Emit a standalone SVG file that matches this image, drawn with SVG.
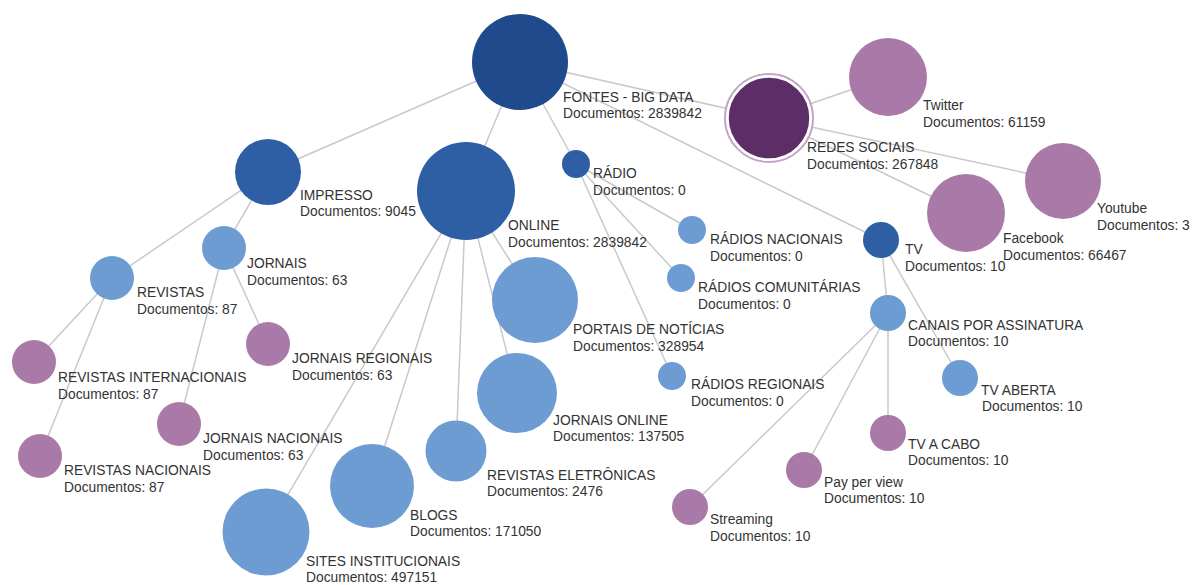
<svg xmlns="http://www.w3.org/2000/svg" width="1193" height="585" viewBox="0 0 1193 585">
  <style>
    .link { stroke: #c9c9c9; stroke-width: 1.5; fill: none; }
    .root { fill: #1f4a8c; }
    .branch { fill: #2e5fa5; }
    .sub { fill: #6c9cd2; }
    .leaf { fill: #a97aa8; }
    .social { fill: #5c2d66; stroke: #ffffff; stroke-width: 2.5; }
    .ring { fill: none; stroke: #c3a6c6; stroke-width: 2; }
    text { font-family: "Liberation Sans", Arial, sans-serif; font-size: 13.8px; fill: #333333; }
  </style>
  <rect width="1193" height="585" fill="#ffffff"/>

  <!-- tree edges, drawn under the nodes -->
  <g id="links">
    <!-- FONTES - BIG DATA -->
    <line class="link" x1="520" y1="62" x2="268" y2="172"/>
    <line class="link" x1="520" y1="62" x2="466" y2="191"/>
    <line class="link" x1="520" y1="62" x2="576" y2="164"/>
    <line class="link" x1="520" y1="62" x2="881" y2="240"/>
    <line class="link" x1="520" y1="62" x2="769" y2="118"/>
    <!-- REDES SOCIAIS -->
    <line class="link" x1="769" y1="118" x2="888" y2="77"/>
    <line class="link" x1="769" y1="118" x2="1063" y2="181"/>
    <line class="link" x1="769" y1="118" x2="966" y2="213"/>
    <!-- IMPRESSO -->
    <line class="link" x1="268" y1="172" x2="112" y2="278"/>
    <line class="link" x1="268" y1="172" x2="224" y2="248"/>
    <!-- REVISTAS -->
    <line class="link" x1="112" y1="278" x2="34" y2="362"/>
    <line class="link" x1="112" y1="278" x2="40" y2="456"/>
    <!-- JORNAIS -->
    <line class="link" x1="224" y1="248" x2="268" y2="344"/>
    <line class="link" x1="224" y1="248" x2="179" y2="424"/>
    <!-- ONLINE -->
    <line class="link" x1="466" y1="191" x2="535" y2="300"/>
    <line class="link" x1="466" y1="191" x2="517" y2="393"/>
    <line class="link" x1="466" y1="191" x2="456" y2="451"/>
    <line class="link" x1="466" y1="191" x2="372" y2="486"/>
    <line class="link" x1="466" y1="191" x2="266" y2="532"/>
    <!-- RÁDIO -->
    <line class="link" x1="576" y1="164" x2="692" y2="230"/>
    <line class="link" x1="576" y1="164" x2="681" y2="278"/>
    <line class="link" x1="576" y1="164" x2="672" y2="376"/>
    <!-- TV -->
    <line class="link" x1="881" y1="240" x2="888" y2="313"/>
    <line class="link" x1="881" y1="240" x2="960" y2="378"/>
    <!-- CANAIS POR ASSINATURA -->
    <line class="link" x1="888" y1="313" x2="888" y2="433"/>
    <line class="link" x1="888" y1="313" x2="804" y2="470"/>
    <line class="link" x1="888" y1="313" x2="690" y2="507"/>
  </g>

  <g id="node-fontes">
    <circle class="root" cx="520" cy="62" r="48"/>
    <text x="563" y="102">FONTES - BIG DATA<tspan x="563" dy="16">Documentos: 2839842</tspan></text>
  </g>

  <g id="node-redes-sociais">
    <circle class="ring" cx="769" cy="118" r="44"/>
    <circle class="social" cx="769" cy="118" r="41.5"/>
    <text x="807" y="152">REDES SOCIAIS<tspan x="807" dy="16.5">Documentos: 267848</tspan></text>
  </g>

  <g id="node-twitter">
    <circle class="leaf" cx="888" cy="77" r="39"/>
    <text x="923" y="110">Twitter<tspan x="923" dy="16.5">Documentos: 61159</tspan></text>
  </g>

  <g id="node-youtube">
    <circle class="leaf" cx="1063" cy="181" r="38"/>
    <text x="1097" y="213">Youtube<tspan x="1097" dy="16.5">Documentos: 3</tspan></text>
  </g>

  <g id="node-facebook">
    <circle class="leaf" cx="966" cy="213" r="39"/>
    <text x="1003" y="243">Facebook<tspan x="1003" dy="16.5">Documentos: 66467</tspan></text>
  </g>

  <g id="node-tv">
    <circle class="branch" cx="881" cy="240" r="18"/>
    <text x="905" y="254">TV<tspan x="905" dy="16.5">Documentos: 10</tspan></text>
  </g>

  <g id="node-impresso">
    <circle class="branch" cx="268" cy="172" r="33"/>
    <text x="300" y="200">IMPRESSO<tspan x="300" dy="16">Documentos: 9045</tspan></text>
  </g>

  <g id="node-online">
    <circle class="branch" cx="466" cy="191" r="49"/>
    <text x="508" y="230">ONLINE<tspan x="508" dy="16.5">Documentos: 2839842</tspan></text>
  </g>

  <g id="node-radio">
    <circle class="branch" cx="576" cy="164" r="14"/>
    <text x="593" y="178">RÁDIO<tspan x="593" dy="17">Documentos: 0</tspan></text>
  </g>

  <g id="node-radios-nacionais">
    <circle class="sub" cx="692" cy="230" r="14"/>
    <text x="710" y="244">RÁDIOS NACIONAIS<tspan x="710" dy="16.5">Documentos: 0</tspan></text>
  </g>

  <g id="node-radios-comunitarias">
    <circle class="sub" cx="681" cy="278" r="14"/>
    <text x="698" y="292">RÁDIOS COMUNITÁRIAS<tspan x="698" dy="16.5">Documentos: 0</tspan></text>
  </g>

  <g id="node-radios-regionais">
    <circle class="sub" cx="672" cy="376" r="14"/>
    <text x="691" y="389">RÁDIOS REGIONAIS<tspan x="691" dy="16.5">Documentos: 0</tspan></text>
  </g>

  <g id="node-portais">
    <circle class="sub" cx="535" cy="300" r="43"/>
    <text x="573" y="334">PORTAIS DE NOTÍCIAS<tspan x="573" dy="17">Documentos: 328954</tspan></text>
  </g>

  <g id="node-jornais-online">
    <circle class="sub" cx="517" cy="393" r="40"/>
    <text x="553" y="425">JORNAIS ONLINE<tspan x="553" dy="16">Documentos: 137505</tspan></text>
  </g>

  <g id="node-revistas-eletronicas">
    <circle class="sub" cx="456" cy="451" r="30.5"/>
    <text x="487" y="480">REVISTAS ELETRÔNICAS<tspan x="487" dy="16">Documentos: 2476</tspan></text>
  </g>

  <g id="node-blogs">
    <circle class="sub" cx="372" cy="486" r="42"/>
    <text x="410" y="520">BLOGS<tspan x="410" dy="16">Documentos: 171050</tspan></text>
  </g>

  <g id="node-sites-institucionais">
    <circle class="sub" cx="266" cy="532" r="43.5"/>
    <text x="306" y="566">SITES INSTITUCIONAIS<tspan x="306" dy="16">Documentos: 497151</tspan></text>
  </g>

  <g id="node-jornais">
    <circle class="sub" cx="224" cy="248" r="22"/>
    <text x="247" y="268">JORNAIS<tspan x="247" dy="16.5">Documentos: 63</tspan></text>
  </g>

  <g id="node-revistas">
    <circle class="sub" cx="112" cy="278" r="22"/>
    <text x="137" y="297">REVISTAS<tspan x="137" dy="16.5">Documentos: 87</tspan></text>
  </g>

  <g id="node-revistas-internacionais">
    <circle class="leaf" cx="34" cy="362" r="22"/>
    <text x="58" y="382">REVISTAS INTERNACIONAIS<tspan x="58" dy="16.5">Documentos: 87</tspan></text>
  </g>

  <g id="node-jornais-regionais">
    <circle class="leaf" cx="268" cy="344" r="22"/>
    <text x="292" y="363">JORNAIS REGIONAIS<tspan x="292" dy="16.5">Documentos: 63</tspan></text>
  </g>

  <g id="node-jornais-nacionais">
    <circle class="leaf" cx="179" cy="424" r="22"/>
    <text x="203" y="443">JORNAIS NACIONAIS<tspan x="203" dy="16.5">Documentos: 63</tspan></text>
  </g>

  <g id="node-revistas-nacionais">
    <circle class="leaf" cx="40" cy="456" r="22"/>
    <text x="64" y="475">REVISTAS NACIONAIS<tspan x="64" dy="16.5">Documentos: 87</tspan></text>
  </g>

  <g id="node-canais-assinatura">
    <circle class="sub" cx="888" cy="313" r="18"/>
    <text x="908" y="330">CANAIS POR ASSINATURA<tspan x="908" dy="16">Documentos: 10</tspan></text>
  </g>

  <g id="node-tv-aberta">
    <circle class="sub" cx="960" cy="378" r="18"/>
    <text x="981" y="395">TV ABERTA<tspan x="982" dy="16">Documentos: 10</tspan></text>
  </g>

  <g id="node-tv-a-cabo">
    <circle class="leaf" cx="888" cy="433" r="18"/>
    <text x="908" y="449">TV A CABO<tspan x="908" dy="16">Documentos: 10</tspan></text>
  </g>

  <g id="node-pay-per-view">
    <circle class="leaf" cx="804" cy="470" r="18"/>
    <text x="824" y="487">Pay per view<tspan x="824" dy="16">Documentos: 10</tspan></text>
  </g>

  <g id="node-streaming">
    <circle class="leaf" cx="690" cy="507" r="18"/>
    <text x="710" y="524">Streaming<tspan x="710" dy="16.5">Documentos: 10</tspan></text>
  </g>
</svg>
